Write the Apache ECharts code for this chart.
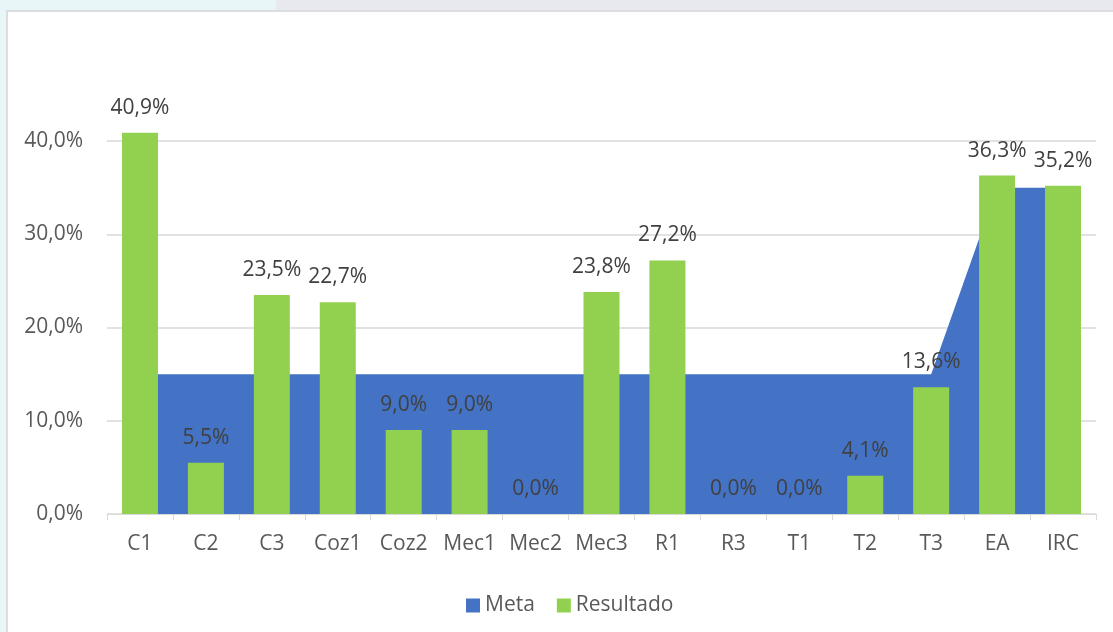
<!DOCTYPE html>
<html>
<head>
<meta charset="utf-8">
<script src="https://cdn.jsdelivr.net/npm/echarts@6/dist/echarts.min.js"></script>
<style>
  html, body { margin: 0; padding: 0; width: 1113px; height: 632px; overflow: hidden;
    background: linear-gradient(to right, #e9f6f8 0px, #e9f6f8 276px, #e8e9ee 276px, #e8e9ee 100%); }
  #card { position: absolute; left: 6px; top: 10px; width: 1120px; height: 640px;
    background: #ffffff; border-left: 2px solid #dcdde0; border-top: 2px solid #dcdde0; box-sizing: border-box; }
  #chart { position: absolute; left: 0; top: 0; width: 1113px; height: 632px; }
</style>
</head>
<body>
<div id="card"></div>
<div id="chart"></div>
<script>
const categories = ['C1', 'C2', 'C3', 'Coz1', 'Coz2', 'Mec1', 'Mec2', 'Mec3', 'R1', 'R3', 'T1', 'T2', 'T3', 'EA', 'IRC'];
const metaValues = [15, 15, 15, 15, 15, 15, 15, 15, 15, 15, 15, 15, 15, 35, 35];
const resultadoValues = [40.9, 5.5, 23.5, 22.7, 9.0, 9.0, 0.0, 23.8, 27.2, 0.0, 0.0, 4.1, 13.6, 36.3, 35.2];
const yTicks = [0, 10, 20, 30, 40];

const FONT = '"Open Sans", "DejaVu Sans", sans-serif';
const FS = 21;
const fmt = v => v.toFixed(1).replace('.', ',') + '%';

const chart = echarts.init(document.getElementById('chart'), null, { renderer: 'canvas' });
chart.setOption({
  backgroundColor: 'transparent',
  animation: false,
  grid: { left: 107, right: 17, top: 94.4, bottom: 118, containLabel: false },
  legend: {
    left: 461, top: 590,
    itemWidth: 14, itemHeight: 14, itemGap: 22,
    textStyle: { fontFamily: FONT, fontSize: FS, color: '#595959' },
    data: [
      { name: 'Meta', icon: 'rect' },
      { name: 'Resultado', icon: 'rect' }
    ]
  },
  xAxis: {
    type: 'category',
    data: categories,
    boundaryGap: true,
    axisLine: { show: true, lineStyle: { color: '#d9d9d9', width: 1 } },
    axisTick: { show: true, alignWithLabel: false, length: 6, lineStyle: { color: '#d9d9d9' } },
    axisLabel: { interval: 0, margin: 20, fontFamily: FONT, fontSize: FS, color: '#595959' },
    splitLine: { show: false }
  },
  yAxis: {
    type: 'value',
    min: 0, max: 45, interval: 10,
    axisLine: { show: false },
    axisTick: { show: false },
    axisLabel: {
      margin: 24, fontFamily: FONT, fontSize: FS, color: '#595959',
      formatter: v => (yTicks.indexOf(v) >= 0 ? fmt(v) : '')
    },
    splitLine: {
      show: true,
      lineStyle: { color: ['#d9d9d9', '#d9d9d9', '#d9d9d9', '#d9d9d9', '#d9d9d9', 'rgba(0,0,0,0)'], width: 1.5 }
    }
  },
  series: [
    {
      name: 'Meta',
      type: 'line',
      data: metaValues,
      symbol: 'none',
      lineStyle: { width: 0, color: '#4472c4' },
      itemStyle: { color: '#4472c4' },
      areaStyle: { color: '#4472c4', opacity: 1 },
      z: 2
    },
    {
      name: 'Resultado',
      type: 'bar',
      data: resultadoValues,
      barWidth: 36,
      itemStyle: { color: '#92d050' },
      label: {
        show: true, position: 'top', distance: 13,
        fontFamily: FONT, fontSize: FS, lineHeight: 24, color: '#404040',
        formatter: p => fmt(p.value)
      },
      z: 3
    }
  ]
});
</script>
</body>
</html>
